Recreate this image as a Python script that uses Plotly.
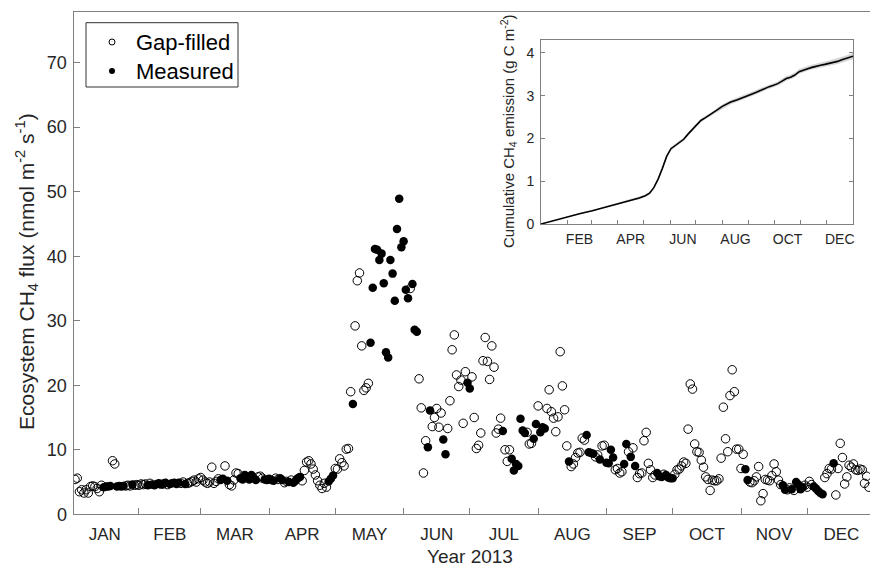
import plotly.graph_objects as go

# ---------------- data (day of year, 0 = 1 Jan) ----------------
gap_doy = [2,3,4,5,6,7,8,9,10,11,12,13,14,19,20,25,26,27,29,30,31,32,33,34,36,42,44,50,51,53,54,55,56,57,58,59,60,61,62,63,64,65,66,67,70,72,73,74,75,76,85,86,87,93,94,97,98,100,105,106,107,108,109,110,111,112,113,114,115,116,120,121,122,123,124,125,126,127,129,130,131,132,133,134,135,154,158,159,160,161,164,165,166,167,168,171,172,173,174,175,176,177,178,179,182,183,184,185,186,187,188,189,190,191,192,193,194,195,197,198,199,207,208,209,212,216,217,218,219,220,221,222,223,224,225,227,228,229,230,231,232,233,238,239,241,242,247,248,249,250,253,255,257,258,259,260,261,262,263,264,265,269,274,275,276,277,278,279,280,281,282,283,284,285,286,287,288,289,290,291,292,293,294,295,296,297,298,299,300,301,302,303,304,305,308,309,310,311,312,313,314,315,316,317,318,319,320,321,322,325,326,328,333,334,335,336,342,343,344,345,347,348,349,350,351,352,353,354,355,356,357,358,359,360,361,362]
gap_flux = [5.4,5.6,3.5,3.8,3.3,3.8,3.3,4.3,4.4,4.3,4.0,3.5,4.5,8.3,7.8,4.4,4.5,4.4,4.5,4.6,4.5,4.7,4.6,4.7,4.8,4.7,4.6,4.8,5.0,4.8,4.9,5.1,5.3,5.0,5.5,5.7,5.3,5.0,4.8,5.0,7.3,4.8,5.1,5.5,7.5,4.6,4.4,5.3,6.4,6.3,5.8,5.9,5.6,5.6,5.4,4.9,5.1,5.3,5.2,6.8,8.1,8.3,7.8,7.0,6.1,5.2,4.5,4.0,4.8,4.2,7.1,7.0,8.6,8.0,7.5,10.1,10.2,19.0,29.2,36.2,37.4,26.1,19.2,19.6,20.3,35.0,21.0,16.5,6.4,11.4,13.6,15.0,16.4,13.5,15.7,13.3,17.6,25.5,27.8,21.6,19.8,20.8,14.1,22.1,21.3,15.0,10.2,10.7,12.6,23.8,27.4,23.7,20.9,26.1,22.8,12.6,13.2,14.9,10.0,8.2,10.0,12.7,10.9,11.0,16.8,16.4,19.3,15.9,14.9,12.8,15.1,25.2,19.9,16.2,10.6,7.4,7.8,8.8,9.5,9.6,11.8,11.5,8.9,9.2,10.6,10.7,6.9,7.1,6.4,6.6,9.7,10.3,5.7,6.3,6.4,11.4,12.7,7.9,6.9,5.7,6.1,6.2,6.2,6.9,7.0,7.5,8.1,7.9,13.2,20.2,19.4,10.9,9.7,9.6,8.4,7.3,5.8,5.4,3.7,5.3,5.2,5.2,5.5,8.7,16.6,11.7,9.7,18.4,22.4,19.0,10.1,10.1,7.1,9.3,5.0,4.9,5.2,5.8,7.4,2.1,3.2,5.4,5.3,5.2,6.0,7.8,6.6,5.3,4.6,3.8,4.1,3.7,4.5,4.2,5.1,4.6,5.7,6.3,7.1,7.0,3.0,7.1,11.0,8.8,4.7,5.8,7.6,7.3,7.8,6.9,6.8,7.0,6.9,4.8,5.9,4.2]

meas_doy = [15,16,17,18,21,22,23,24,28,35,37,38,39,40,41,43,45,46,47,48,49,52,68,69,71,77,78,79,80,81,82,83,84,88,89,90,91,92,95,96,99,101,102,103,104,117,118,119,128,136,137,138,139,140,141,142,143,144,145,146,147,148,149,150,151,152,153,155,156,157,162,163,169,170,180,181,196,200,201,202,203,204,205,206,210,211,213,214,215,226,234,235,236,237,240,243,244,245,246,251,252,254,256,266,267,268,270,271,272,273,306,307,323,324,327,329,330,331,332,337,338,339,340,341,346]
meas_flux = [4.2,4.3,4.3,4.4,4.3,4.4,4.3,4.4,4.6,4.5,4.6,4.5,4.7,4.8,4.6,4.9,4.7,4.8,4.9,4.7,4.9,4.7,5.3,5.5,5.2,5.6,5.4,6.1,5.8,5.4,6.1,5.6,5.3,5.4,5.3,5.5,5.3,5.2,5.6,5.3,5.0,4.9,5.2,5.6,5.8,5.1,5.5,6.0,17.1,26.6,35.1,41.1,41.0,39.4,40.4,35.8,25.1,24.3,39.4,37.3,33.1,44.2,48.9,41.4,42.3,34.8,33.5,35.7,28.6,28.3,10.4,16.1,11.6,9.3,20.4,19.5,12.9,8.6,6.8,7.8,7.5,14.8,13.0,12.6,11.7,14.0,12.7,13.5,13.3,8.2,12.3,9.6,9.5,9.4,8.5,8.0,7.9,10.0,8.8,7.8,10.9,8.9,7.5,6.4,5.9,5.8,6.1,5.7,5.6,5.6,7.0,5.3,4.5,3.8,3.9,5.0,4.6,3.9,4.2,4.3,4.0,3.6,3.3,3.1,7.9]

# cumulative emission (inset)
cum_doy  = [0,15,30,45,60,75,90,105,115,122,127,132,137,142,147,152,157,162,167,172,177,182,187,192,197,202,207,212,217,222,229,237,242,247,252,257,262,267,272,277,282,287,292,297,302,307,312,317,322,327,332,337,342,347,352,357,362,365]
cum_mean = [0,0.08,0.17,0.24,0.31,0.39,0.47,0.55,0.61,0.66,0.72,0.85,1.05,1.30,1.58,1.76,1.83,1.90,1.98,2.10,2.20,2.30,2.42,2.48,2.54,2.60,2.68,2.75,2.80,2.85,2.90,2.97,3.00,3.04,3.08,3.13,3.17,3.21,3.24,3.28,3.34,3.40,3.43,3.48,3.56,3.60,3.63,3.66,3.69,3.71,3.73,3.75,3.78,3.80,3.84,3.87,3.90,3.92]
cum_lo   = [0,0.075,0.16,0.23,0.30,0.37,0.45,0.52,0.58,0.63,0.69,0.82,1.02,1.27,1.55,1.72,1.79,1.86,1.94,2.06,2.16,2.26,2.38,2.44,2.50,2.56,2.63,2.70,2.75,2.80,2.85,2.92,2.95,2.99,3.03,3.08,3.12,3.16,3.19,3.23,3.29,3.35,3.38,3.43,3.51,3.55,3.58,3.61,3.63,3.65,3.67,3.69,3.72,3.74,3.77,3.80,3.83,3.85]
cum_hi   = [0,0.085,0.18,0.25,0.32,0.41,0.49,0.58,0.64,0.69,0.75,0.88,1.08,1.33,1.61,1.80,1.87,1.94,2.02,2.14,2.24,2.34,2.46,2.52,2.58,2.64,2.73,2.80,2.85,2.90,2.95,3.02,3.05,3.09,3.13,3.18,3.22,3.26,3.29,3.33,3.40,3.46,3.49,3.54,3.62,3.66,3.69,3.72,3.75,3.78,3.80,3.82,3.85,3.87,3.91,3.94,3.98,4.00]

month_starts = [31,59,90,120,151,181,212,243,273,304,334]
month_mid    = [15.5,45,74.5,105,135.5,166,196.5,227.5,258,288.5,319,349.5]
month_names  = ["JAN","FEB","MAR","APR","MAY","JUN","JUL","AUG","SEP","OCT","NOV","DEC"]
inset_mid    = [45,105,166,227.5,288.5,349.5]
inset_names  = ["FEB","APR","JUN","AUG","OCT","DEC"]
legend_names = ["Gap-filled", "Measured"]

# ---------------- figure ----------------
W, H = 870, 569
FONT = "Liberation Sans, Arial, Helvetica, sans-serif"
TXT = "#262626"
AX = "#808080"

fig = go.Figure()

fig.add_trace(go.Scatter(x=gap_doy, y=gap_flux, mode="markers", showlegend=False,
                         marker=dict(symbol="circle-open", size=8.5, color="black",
                                     line=dict(width=1, color="black")),
                         xaxis="x", yaxis="y"))
fig.add_trace(go.Scatter(x=meas_doy, y=meas_flux, mode="markers", showlegend=False,
                         marker=dict(symbol="circle", size=8.5, color="black"),
                         xaxis="x", yaxis="y"))

# inset band + line
fig.add_trace(go.Scatter(x=cum_doy, y=cum_hi, mode="lines", line=dict(width=0, color="#d0d0d0"),
                         showlegend=False, xaxis="x2", yaxis="y2", hoverinfo="skip"))
fig.add_trace(go.Scatter(x=cum_doy, y=cum_lo, mode="lines", line=dict(width=0, color="#d0d0d0"),
                         fill="tonexty", fillcolor="#d6d6d6",
                         showlegend=False, xaxis="x2", yaxis="y2", hoverinfo="skip"))
fig.add_trace(go.Scatter(x=cum_doy, y=cum_mean, mode="lines", line=dict(width=1.6, color="black"),
                         showlegend=False, xaxis="x2", yaxis="y2"))

# legend (drawn on a pixel-space overlay axis)
LEG_X0, LEG_X1, LEG_Y0, LEG_Y1 = 86, 238, 22.7, 87
LEG_ROWS = [42, 71]
fig.add_trace(go.Scatter(x=[112], y=[LEG_ROWS[0]], mode="markers", showlegend=False,
                         marker=dict(symbol="circle-open", size=6, color="black",
                                     line=dict(width=1, color="black")),
                         xaxis="x3", yaxis="y3", hoverinfo="skip"))
fig.add_trace(go.Scatter(x=[112], y=[LEG_ROWS[1]], mode="markers", showlegend=False,
                         marker=dict(symbol="circle", size=6, color="black"),
                         xaxis="x3", yaxis="y3", hoverinfo="skip"))

tickfont = dict(family=FONT, size=17, color=TXT)
ytickfont = dict(family=FONT, size=18, color=TXT)
insetfont = dict(family=FONT, size=14, color=TXT)

annotations = [
    dict(text="Ecosystem CH<sub>4</sub> flux (nmol m<sup>-2</sup> s<sup>-1</sup>)",
         x=26/W, y=1-272/H, xref="paper", yref="paper", textangle=-90,
         showarrow=False, font=dict(family=FONT, size=21, color=TXT),
         xanchor="center", yanchor="middle"),
    dict(text="Year 2013", x=470/W, y=1-556/H, xref="paper", yref="paper",
         showarrow=False, font=dict(family=FONT, size=19, color=TXT),
         xanchor="center", yanchor="middle"),
    dict(text="Cumulative CH<sub>4</sub> emission (g C m<sup>-2</sup>)",
         x=508/W, y=1-131/H, xref="paper", yref="paper", textangle=-90,
         showarrow=False, font=dict(family=FONT, size=15, color=TXT),
         xanchor="center", yanchor="middle"),
]
for name, yy in zip(legend_names, LEG_ROWS):
    annotations.append(dict(text=name, x=134/W, y=1-yy/H, xref="paper", yref="paper",
                            showarrow=False, xanchor="left", yanchor="middle",
                            font=dict(family=FONT, size=22, color="black")))

fig.update_layout(
    template="none",
    width=W, height=H,
    margin=dict(l=0, r=0, t=0, b=0, pad=0, autoexpand=False),
    paper_bgcolor="white", plot_bgcolor="rgba(0,0,0,0)",
    font=dict(family=FONT, color=TXT),
    showlegend=False,
    xaxis=dict(domain=[73.5/W, 1], range=[1.3, 362.5], automargin=False,
               tickmode="array", tickvals=month_mid, ticktext=month_names,
               ticks="", tickfont=tickfont, ticklabelstandoff=4,
               showline=True, linecolor=AX, linewidth=1, mirror=True,
               showgrid=False, zeroline=False,
               minor=dict(tickmode="array", tickvals=month_starts, ticks="inside",
                          ticklen=6, tickcolor=AX, showgrid=False)),
    yaxis=dict(domain=[1-514.3/H, 1-12.3/H], range=[0, 77.8], automargin=False,
               tickmode="array", tickvals=[0,10,20,30,40,50,60,70],
               ticks="inside", ticklen=6, tickcolor=AX, tickfont=ytickfont,
               ticklabelstandoff=2,
               showline=True, linecolor=AX, linewidth=1, mirror=False,
               showgrid=False, zeroline=False),
    xaxis2=dict(domain=[541/W, 853/W], range=[0, 365], anchor="y2", automargin=False,
                tickmode="array", tickvals=inset_mid, ticktext=inset_names,
                ticks="", tickfont=insetfont, ticklabelstandoff=2,
                showline=True, linecolor=AX, linewidth=1, mirror=True,
                showgrid=False, zeroline=False,
                minor=dict(tickmode="array", tickvals=month_starts, ticks="inside",
                           ticklen=4, tickcolor=AX, showgrid=False)),
    yaxis2=dict(domain=[1-224/H, 1-40/H], range=[0, 4.3], anchor="x2", automargin=False,
                tickmode="array", tickvals=[0,1,2,3,4],
                ticks="inside", ticklen=4, tickcolor=AX, tickfont=insetfont,
                ticklabelstandoff=3,
                showline=True, linecolor=AX, linewidth=1, mirror="ticks",
                showgrid=False, zeroline=False),
    xaxis3=dict(domain=[0, 1], range=[0, W], anchor="y3", visible=False,
                fixedrange=True, automargin=False),
    yaxis3=dict(domain=[0, 1], range=[H, 0], anchor="x3", visible=False,
                fixedrange=True, automargin=False),
    shapes=[dict(type="rect", xref="paper", yref="paper",
                 x0=LEG_X0/W, x1=LEG_X1/W, y0=1-LEG_Y1/H, y1=1-LEG_Y0/H,
                 line=dict(color="#333333", width=1), fillcolor="white", layer="below")],
    annotations=annotations,
)

fig.write_html("out.html", config={"displayModeBar": False},
               post_script="document.body.style.margin='0';document.body.style.overflow='hidden';")
